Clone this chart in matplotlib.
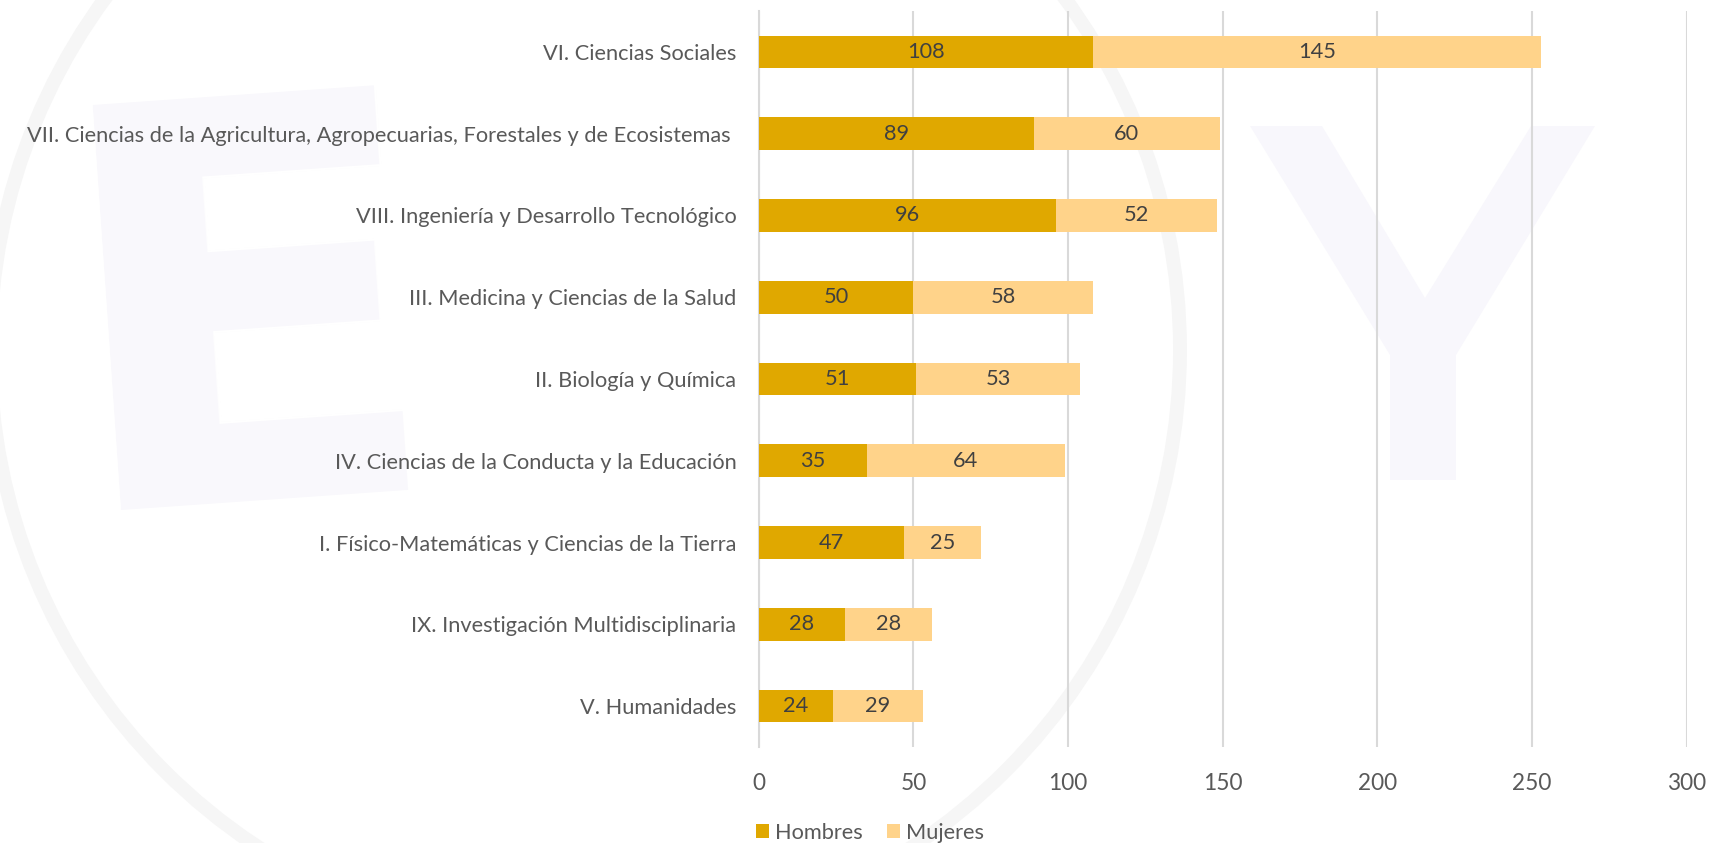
import matplotlib
matplotlib.use("Agg")
import matplotlib.pyplot as plt
from matplotlib.patches import Polygon, Ellipse

plt.rcParams['font.family'] = ['Lato', 'DejaVu Sans']

categorias = [
    "VI. Ciencias Sociales",
    "VII. Ciencias de la Agricultura, Agropecuarias, Forestales y de Ecosistemas ",
    "VIII. Ingeniería y Desarrollo Tecnológico",
    "III. Medicina y Ciencias de la Salud",
    "II. Biología y Química",
    "IV. Ciencias de la Conducta y la Educación",
    "I. Físico-Matemáticas y Ciencias de la Tierra",
    "IX. Investigación Multidisciplinaria",
    "V. Humanidades",
]
hombres = [108, 89, 96, 50, 51, 35, 47, 28, 24]
mujeres = [145, 60, 52, 58, 53, 64, 25, 28, 29]

c_hombres = "#E0A800"
c_mujeres = "#FFD38A"
gris_texto = "#595959"
fs = 15.7

W, H = 1711, 843
fig = plt.figure(figsize=(W / 100, H / 100), dpi=100)

# marca de agua tenue
def px(x, y):
    return (x / W, 1 - y / H)

y_pts = [(1250, 126), (1322, 126), (1425, 298), (1531, 126), (1595, 126),
         (1456, 355), (1456, 480), (1390, 480), (1390, 355)]
fig.add_artist(Polygon([px(*p) for p in y_pts], closed=True, transform=fig.transFigure,
                       facecolor="#F8F7FC", edgecolor="none", zorder=-2))
r = 595
fig.add_artist(Ellipse(px(585, 350), 2 * r / W, 2 * r / H, transform=fig.transFigure,
                       fill=False, edgecolor="#F6F6F6", linewidth=10, zorder=-2))
fig.text(40 / W, 1 - 510 / H, "E", fontsize=400, fontweight="bold", family="DejaVu Sans",
         color="#F9F8FC", rotation=4, ha="left", va="baseline", zorder=-2)

ax = fig.add_axes([758.7 / W, 1 - 747 / H, 928 / W, 736 / H])
ax.set_facecolor("none")

pos = list(range(len(categorias)))
ax.barh(pos, hombres, height=0.4, color=c_hombres, label="Hombres", zorder=3)
ax.barh(pos, mujeres, left=hombres, height=0.4, color=c_mujeres, label="Mujeres", zorder=3)

for i in pos:
    ax.text(hombres[i] / 2, i, str(hombres[i]), ha="center", va="center",
            fontsize=fs, color="#404040", zorder=4)
    ax.text(hombres[i] + mujeres[i] / 2, i, str(mujeres[i]), ha="center", va="center",
            fontsize=fs, color="#404040", zorder=4)

ax.set_xlim(0, 300)
ax.set_ylim(-0.5, len(categorias) - 0.5)
ax.invert_yaxis()
ax.set_xticks(range(0, 301, 50))
ax.set_yticks(pos)
ax.set_yticklabels(categorias)
ax.grid(axis="x", color="#D9D9D9", linewidth=1.5, zorder=0)
for s in ["top", "right", "bottom"]:
    ax.spines[s].set_visible(False)
ax.spines["left"].set_color("#D9D9D9")
ax.spines["left"].set_linewidth(1.5)
ax.tick_params(axis="both", length=0, labelsize=fs, labelcolor=gris_texto)
ax.tick_params(axis="x", labelsize=16.3)
ax.tick_params(axis="y", pad=16)
ax.tick_params(axis="x", pad=19)

fig.legend(loc="center", bbox_to_anchor=(870 / W, 1 - 833 / H), ncol=2, frameon=False,
           fontsize=fs, labelcolor=gris_texto, handlelength=0.6, handleheight=0.6,
           handletextpad=0.3, columnspacing=1.1, borderpad=0)

fig.savefig("out.png", dpi=100)
